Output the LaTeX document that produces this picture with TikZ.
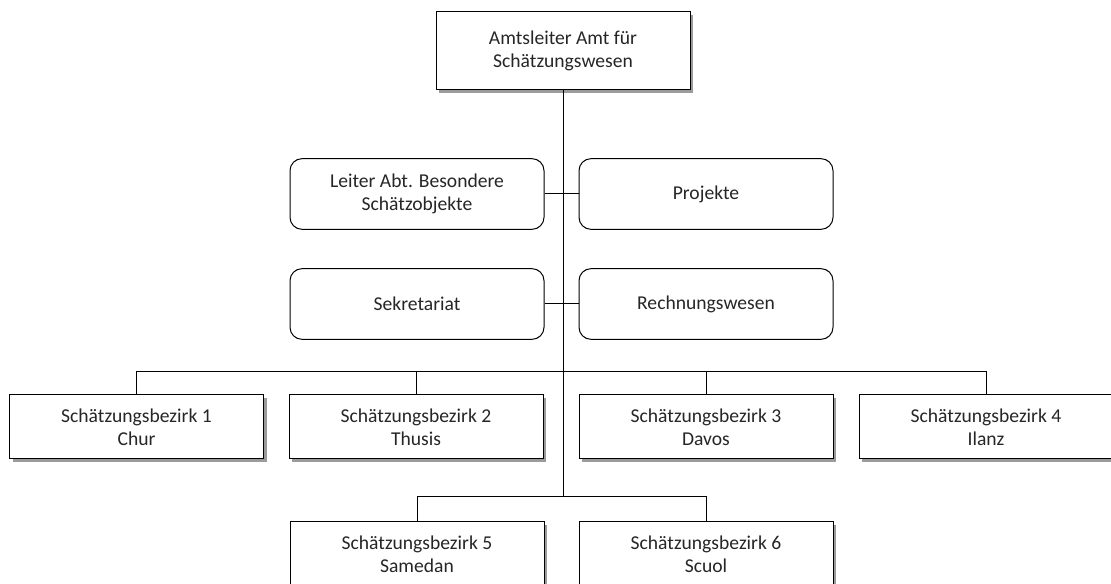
\documentclass[tikz,border=0pt]{standalone}
\usepackage{fontspec}
\setmainfont{Carlito}
\usetikzlibrary{shadows}

\begin{document}
\begin{tikzpicture}[x=0.75pt,y=-0.75pt]
  \tikzset{
    orgbox/.style={draw,line width=0.75pt,fill=white,align=center,inner sep=0pt,
      minimum width=190.5pt,minimum height=48pt,text=black!85,
      font=\fontsize{14.7}{17.2}\selectfont},
    schatten/.style={drop shadow={shadow xshift=2.6pt,shadow yshift=-2.6pt,
      fill=black!65,opacity=0.6}},
    chefbox/.style={orgbox,schatten,minimum height=59pt},
    stabbox/.style={orgbox,rounded corners=9pt,minimum height=53pt},
    bezbox/.style={orgbox,schatten},
    orgline/.style={line width=0.75pt},
  }
  \useasboundingbox (0,0) rectangle (1111,584);
  \node[chefbox]     (amt)         at (563,50.5) {Amtsleiter Amt für\\Schätzungswesen};
  \node[stabbox]     (leiter)      at (417,194)  {Leiter Abt. Besondere\\Schätzobjekte};
  \node[stabbox]     (projekte)    at (706,194)  {Projekte};
  \node[stabbox]     (sekretariat) at (417,304)  {Sekretariat};
  \node[stabbox]     (rechnung)    at (706,304)  {Rechnungswesen};
  \node[bezbox]      (bez1)        at (136.5,427) {Schätzungsbezirk 1\\Chur};
  \node[bezbox]      (bez2)        at (416,427)  {Schätzungsbezirk 2\\Thusis};
  \node[bezbox]      (bez3)        at (706,427)  {Schätzungsbezirk 3\\Davos};
  \node[bezbox]      (bez4)        at (986,427)  {Schätzungsbezirk 4\\Ilanz};
  \node[bezbox]      (bez5)        at (417,554)  {Schätzungsbezirk 5\\Samedan};
  \node[bezbox]      (bez6)        at (706,554)  {Schätzungsbezirk 6\\Scuol};
  \coordinate (bus1) at (563,372);
  \coordinate (bus2) at (563,497);
  % Stamm und Stabsstellen
  \draw[orgline] (amt.south) -- (bus2);
  \draw[orgline] (leiter.east) -- (projekte.west);
  \draw[orgline] (sekretariat.east) -- (rechnung.west);
  % Bezirke
  \foreach \b in {bez1,bez2,bez3,bez4}
    \draw[orgline] (\b.north) |- (bus1);
  \foreach \b in {bez5,bez6}
    \draw[orgline] (\b.north) |- (bus2);
\end{tikzpicture}
\end{document}
